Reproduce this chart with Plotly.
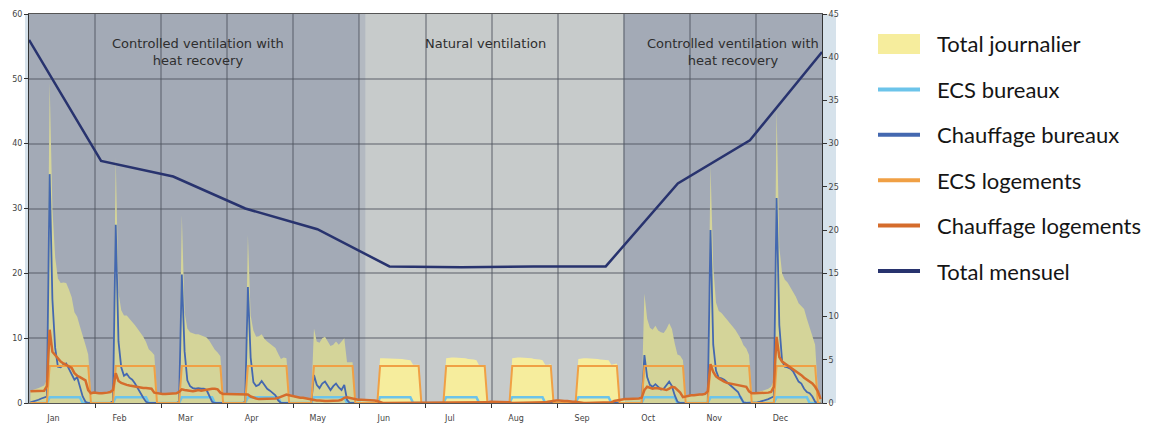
import plotly.graph_objects as go

months = ["Jan", "Feb", "Mar", "Apr", "May", "Jun", "Jul", "Aug", "Sep", "Oct", "Nov", "Dec"]
hours = list(range(24))

# typical day (hourly) for each month, kW
total_journalier = [
    [1.9, 2.0, 2.2, 2.3, 2.5, 2.7, 3.6, 49.5, 30.0, 22.5, 19.2, 18.5, 18.6, 18.5, 17.5, 16.3, 14.0, 13.3, 11.8, 10.2, 9.0, 7.5, 1.6, 1.6],
    [1.5, 1.5, 1.5, 1.5, 1.6, 1.7, 2.3, 37.8, 17.0, 14.3, 13.5, 13.5, 13.0, 12.6, 12.0, 11.4, 10.8, 10.2, 9.4, 8.3, 7.9, 7.4, 1.5, 1.5],
    [1.4, 1.4, 1.4, 1.4, 1.4, 1.5, 1.9, 29.0, 14.0, 11.5, 10.9, 10.7, 10.6, 10.6, 10.4, 10.3, 10.1, 9.6, 8.9, 8.2, 7.8, 7.2, 1.4, 1.4],
    [1.4, 1.4, 1.4, 1.4, 1.4, 1.4, 1.6, 25.9, 13.5, 11.2, 10.2, 10.3, 10.6, 9.9, 9.5, 9.2, 8.8, 8.5, 7.6, 6.8, 7.0, 6.9, 1.3, 1.2],
    [0.9, 0.9, 0.8, 0.8, 0.7, 0.7, 0.6, 11.5, 9.5, 9.3, 10.0, 10.2, 9.4, 8.8, 9.0, 9.5, 9.0, 9.5, 10.0, 6.3, 6.3, 6.3, 0.5, 0.5],
    [0.5, 0.5, 0.5, 0.4, 0.4, 0.4, 0.3, 6.9, 6.9, 6.9, 6.9, 6.9, 6.9, 6.9, 6.8, 6.8, 6.7, 6.7, 6.6, 5.9, 5.9, 5.9, 0.1, 0.1],
    [0.1, 0.1, 0.0, 0.0, 0.0, 0.0, 0.0, 6.9, 7.0, 7.0, 7.0, 7.0, 7.0, 6.9, 6.9, 6.8, 6.8, 6.7, 6.6, 5.8, 5.8, 5.8, 0.2, 0.2],
    [0.2, 0.2, 0.1, 0.1, 0.1, 0.1, 0.1, 6.9, 7.0, 7.0, 7.0, 7.0, 6.9, 6.9, 6.9, 6.8, 6.8, 6.7, 6.6, 5.9, 5.9, 6.0, 0.4, 0.4],
    [0.4, 0.3, 0.3, 0.3, 0.2, 0.2, 0.2, 6.8, 6.9, 6.9, 6.9, 6.9, 6.9, 6.8, 6.8, 6.7, 6.7, 6.6, 6.6, 5.9, 6.0, 6.1, 0.5, 0.6],
    [0.6, 0.6, 0.6, 0.7, 0.7, 0.7, 0.9, 16.9, 13.0, 11.6, 11.3, 11.9, 11.2, 10.9, 10.8, 11.4, 12.3, 11.4, 9.2, 7.5, 7.3, 6.6, 1.0, 1.2],
    [1.2, 1.2, 1.3, 1.3, 1.3, 1.4, 2.0, 36.7, 21.0, 15.5, 14.2, 13.9, 13.4, 12.9, 12.3, 11.8, 11.3, 10.6, 9.9, 8.9, 8.4, 7.4, 1.5, 1.5],
    [1.7, 1.8, 1.9, 2.0, 2.2, 2.5, 3.5, 45.5, 24.0, 20.0, 19.0, 18.6, 17.9, 17.2, 16.4, 15.4, 14.9, 14.5, 13.0, 11.7, 10.3, 9.0, 2.0, 0.8],
]

ecs_bureaux = [
    [0, 0, 0, 0, 0, 0, 0, 0.9, 0.9, 0.9, 0.9, 0.9, 0.9, 0.9, 0.9, 0.9, 0.9, 0.9, 0.9, 0, 0, 0, 0, 0],
    [0, 0, 0, 0, 0, 0, 0, 0.9, 0.9, 0.9, 0.9, 0.9, 0.9, 0.9, 0.9, 0.9, 0.9, 0.9, 0.9, 0, 0, 0, 0, 0],
    [0, 0, 0, 0, 0, 0, 0, 0.9, 0.9, 0.9, 0.9, 0.9, 0.9, 0.9, 0.9, 0.9, 0.9, 0.9, 0.9, 0, 0, 0, 0, 0],
    [0, 0, 0, 0, 0, 0, 0, 0.9, 0.9, 0.9, 0.9, 0.9, 0.9, 0.9, 0.9, 0.9, 0.9, 0.9, 0.9, 0, 0, 0, 0, 0],
    [0, 0, 0, 0, 0, 0, 0, 0.9, 0.9, 0.9, 0.9, 0.9, 0.9, 0.9, 0.9, 0.9, 0.9, 0.9, 0.9, 0, 0, 0, 0, 0],
    [0, 0, 0, 0, 0, 0, 0, 0.9, 0.9, 0.9, 0.9, 0.9, 0.9, 0.9, 0.9, 0.9, 0.9, 0.9, 0.9, 0, 0, 0, 0, 0],
    [0, 0, 0, 0, 0, 0, 0, 0.9, 0.9, 0.9, 0.9, 0.9, 0.9, 0.9, 0.9, 0.9, 0.9, 0.9, 0.9, 0, 0, 0, 0, 0],
    [0, 0, 0, 0, 0, 0, 0, 0.9, 0.9, 0.9, 0.9, 0.9, 0.9, 0.9, 0.9, 0.9, 0.9, 0.9, 0.9, 0, 0, 0, 0, 0],
    [0, 0, 0, 0, 0, 0, 0, 0.9, 0.9, 0.9, 0.9, 0.9, 0.9, 0.9, 0.9, 0.9, 0.9, 0.9, 0.9, 0, 0, 0, 0, 0],
    [0, 0, 0, 0, 0, 0, 0, 0.9, 0.9, 0.9, 0.9, 0.9, 0.9, 0.9, 0.9, 0.9, 0.9, 0.9, 0.9, 0, 0, 0, 0, 0],
    [0, 0, 0, 0, 0, 0, 0, 0.9, 0.9, 0.9, 0.9, 0.9, 0.9, 0.9, 0.9, 0.9, 0.9, 0.9, 0.9, 0, 0, 0, 0, 0],
    [0, 0, 0, 0, 0, 0, 0, 0.9, 0.9, 0.9, 0.9, 0.9, 0.9, 0.9, 0.9, 0.9, 0.9, 0.9, 0.9, 0, 0, 0, 0, 0],
]

chauffage_bureaux = [
    [0.1, 0.2, 0.4, 0.5, 0.7, 0.8, 1.0, 35.3, 16.0, 8.5, 5.6, 5.5, 5.9, 6.1, 5.3, 4.6, 3.6, 4.0, 2.5, 1.0, 0.2, 0, 0, 0],
    [0, 0, 0, 0, 0, 0, 0.3, 27.5, 9.5, 5.5, 4.2, 4.5, 3.9, 3.6, 3.0, 2.2, 1.5, 0.8, 0.2, 0, 0, 0, 0, 0],
    [0, 0, 0, 0, 0, 0, 0.2, 19.8, 8.0, 3.5, 2.6, 2.3, 2.2, 2.3, 2.2, 2.2, 2.0, 1.2, 0.2, 0, 0, 0, 0, 0],
    [0, 0, 0, 0, 0, 0, 0.2, 17.9, 7.0, 3.2, 2.6, 2.8, 3.4, 2.8, 2.2, 1.9, 1.6, 1.2, 0.4, 0, 0, 0, 0, 0],
    [0, 0, 0, 0, 0, 0, 0, 4.3, 2.8, 2.3, 3.0, 3.3, 2.6, 2.0, 2.6, 3.0, 2.4, 2.0, 2.8, 0.5, 0, 0, 0, 0],
    [0, 0, 0, 0, 0, 0, 0, 0, 0, 0, 0, 0, 0, 0, 0, 0, 0, 0, 0, 0, 0, 0, 0, 0],
    [0, 0, 0, 0, 0, 0, 0, 0, 0, 0, 0, 0, 0, 0, 0, 0, 0, 0, 0, 0, 0, 0, 0, 0],
    [0, 0, 0, 0, 0, 0, 0, 0, 0, 0, 0, 0, 0, 0, 0, 0, 0, 0, 0, 0, 0, 0, 0, 0],
    [0, 0, 0, 0, 0, 0, 0, 0, 0, 0, 0, 0, 0, 0, 0, 0, 0, 0, 0, 0, 0, 0, 0, 0],
    [0, 0, 0, 0, 0, 0, 0, 7.4, 4.0, 2.8, 2.5, 2.9, 2.5, 2.1, 2.2, 2.8, 3.3, 2.6, 1.2, 0.2, 0, 0, 0, 0],
    [0, 0, 0, 0, 0, 0, 0, 26.7, 9.0, 5.0, 3.9, 3.8, 3.6, 3.2, 2.8, 2.5, 2.1, 1.7, 0.8, 0.1, 0, 0, 0, 0],
    [0.1, 0.2, 0.3, 0.4, 0.6, 0.8, 1.0, 31.6, 12.0, 6.5, 5.6, 5.5, 5.3, 4.9, 4.0, 3.3, 3.0, 2.2, 1.7, 1.5, 1.0, 0.2, 0, 0],
]

ecs_logements = [
    [0, 0, 0, 0, 0, 0, 0, 5.7, 5.7, 5.7, 5.7, 5.7, 5.7, 5.7, 5.7, 5.7, 5.7, 5.7, 5.7, 5.7, 5.7, 5.7, 0, 0],
    [0, 0, 0, 0, 0, 0, 0, 5.7, 5.7, 5.7, 5.7, 5.7, 5.7, 5.7, 5.7, 5.7, 5.7, 5.7, 5.7, 5.7, 5.7, 5.7, 0, 0],
    [0, 0, 0, 0, 0, 0, 0, 5.7, 5.7, 5.7, 5.7, 5.7, 5.7, 5.7, 5.7, 5.7, 5.7, 5.7, 5.7, 5.7, 5.7, 5.7, 0, 0],
    [0, 0, 0, 0, 0, 0, 0, 5.7, 5.7, 5.7, 5.7, 5.7, 5.7, 5.7, 5.7, 5.7, 5.7, 5.7, 5.7, 5.7, 5.7, 5.7, 0, 0],
    [0, 0, 0, 0, 0, 0, 0, 5.7, 5.7, 5.7, 5.7, 5.7, 5.7, 5.7, 5.7, 5.7, 5.7, 5.7, 5.7, 5.7, 5.7, 5.7, 0, 0],
    [0, 0, 0, 0, 0, 0, 0, 5.7, 5.7, 5.7, 5.7, 5.7, 5.7, 5.7, 5.7, 5.7, 5.7, 5.7, 5.7, 5.7, 5.7, 5.7, 0, 0],
    [0, 0, 0, 0, 0, 0, 0, 5.7, 5.7, 5.7, 5.7, 5.7, 5.7, 5.7, 5.7, 5.7, 5.7, 5.7, 5.7, 5.7, 5.7, 5.7, 0, 0],
    [0, 0, 0, 0, 0, 0, 0, 5.7, 5.7, 5.7, 5.7, 5.7, 5.7, 5.7, 5.7, 5.7, 5.7, 5.7, 5.7, 5.7, 5.7, 5.7, 0, 0],
    [0, 0, 0, 0, 0, 0, 0, 5.7, 5.7, 5.7, 5.7, 5.7, 5.7, 5.7, 5.7, 5.7, 5.7, 5.7, 5.7, 5.7, 5.7, 5.7, 0, 0],
    [0, 0, 0, 0, 0, 0, 0, 5.7, 5.7, 5.7, 5.7, 5.7, 5.7, 5.7, 5.7, 5.7, 5.7, 5.7, 5.7, 5.7, 5.7, 5.7, 0, 0],
    [0, 0, 0, 0, 0, 0, 0, 5.7, 5.7, 5.7, 5.7, 5.7, 5.7, 5.7, 5.7, 5.7, 5.7, 5.7, 5.7, 5.7, 5.7, 5.7, 0, 0],
    [0, 0, 0, 0, 0, 0, 0, 5.7, 5.7, 5.7, 5.7, 5.7, 5.7, 5.7, 5.7, 5.7, 5.7, 5.7, 5.7, 5.7, 5.7, 5.7, 0, 0],
]

chauffage_logements = [
    [1.8, 1.8, 1.8, 1.8, 1.8, 1.9, 2.6, 11.3, 7.9, 7.4, 6.9, 6.4, 6.1, 5.9, 5.7, 5.4, 4.6, 4.2, 4.0, 3.8, 3.5, 2.0, 1.5, 1.6],
    [1.5, 1.5, 1.5, 1.5, 1.6, 1.7, 2.0, 4.6, 3.4, 3.1, 2.9, 2.8, 2.7, 2.6, 2.5, 2.5, 2.4, 2.3, 2.3, 2.3, 2.2, 1.6, 1.5, 1.5],
    [1.4, 1.4, 1.4, 1.4, 1.4, 1.5, 1.7, 2.1, 2.0, 1.9, 1.9, 1.8, 1.9, 2.0, 1.9, 2.0, 2.1, 2.1, 2.2, 2.2, 2.1, 1.6, 1.4, 1.4],
    [1.4, 1.4, 1.4, 1.4, 1.4, 1.4, 1.4, 1.3, 1.0, 0.8, 0.7, 0.6, 0.6, 0.6, 0.6, 0.6, 0.6, 0.7, 0.8, 1.0, 1.2, 1.3, 1.2, 1.1],
    [0.9, 0.9, 0.8, 0.8, 0.7, 0.7, 0.6, 0.5, 0.4, 0.4, 0.3, 0.3, 0.3, 0.3, 0.3, 0.3, 0.4, 0.5, 0.8, 0.9, 0.8, 0.6, 0.5, 0.5],
    [0.5, 0.5, 0.5, 0.4, 0.4, 0.4, 0.3, 0.1, 0, 0, 0, 0, 0, 0, 0, 0, 0, 0, 0, 0, 0, 0, 0, 0],
    [0, 0, 0, 0, 0, 0, 0, 0, 0, 0, 0, 0, 0, 0, 0, 0, 0, 0, 0, 0, 0, 0.1, 0.1, 0.2],
    [0.2, 0.2, 0.1, 0.1, 0.1, 0.1, 0.1, 0, 0, 0, 0, 0, 0, 0, 0, 0, 0, 0, 0, 0.1, 0.2, 0.3, 0.4, 0.4],
    [0.4, 0.3, 0.3, 0.3, 0.2, 0.2, 0.2, 0.1, 0, 0, 0, 0, 0, 0, 0, 0, 0, 0, 0, 0.1, 0.3, 0.4, 0.5, 0.6],
    [0.6, 0.6, 0.6, 0.7, 0.7, 0.7, 0.8, 2.0, 2.5, 2.3, 2.2, 2.3, 2.3, 2.2, 2.1, 2.0, 2.2, 2.5, 2.4, 2.0, 1.6, 0.9, 1.0, 1.2],
    [1.2, 1.2, 1.3, 1.3, 1.3, 1.4, 1.8, 6.0, 4.8, 4.1, 3.8, 3.5, 3.3, 3.1, 3.0, 2.9, 2.8, 2.7, 2.6, 2.5, 2.5, 1.8, 1.5, 1.5],
    [1.5, 1.5, 1.5, 1.6, 1.6, 1.7, 2.5, 10.2, 7.1, 6.4, 6.1, 5.9, 5.5, 5.2, 4.9, 4.6, 4.3, 3.9, 3.6, 3.3, 3.0, 2.5, 1.8, 0.6],
]

# monthly total, right axis
total_mensuel = [42.0, 28.0, 26.2, 22.5, 20.1, 15.8, 15.7, 15.8, 15.8, 25.4, 30.4, 40.6]

# ventilation periods (month index start, end)
periods = [(0, 5, "Controlled ventilation with<br>heat recovery"),
           (5, 9, "Natural ventilation"),
           (9, 12, "Controlled ventilation with<br>heat recovery")]

legend_names = ["Total journalier", "ECS bureaux", "Chauffage bureaux",
                "ECS logements", "Chauffage logements", "Total mensuel"]
colors = {"Total journalier": "#f6ed9d", "ECS bureaux": "#6cc4ea",
          "Chauffage bureaux": "#4468b0", "ECS logements": "#f0a045",
          "Chauffage logements": "#d56c2c", "Total mensuel": "#28336e"}
olive = "#d4d499"


def flat(rows):
    return [v for row in rows for v in row]


x_h = [m + (h + 0.5) / 24 for m in range(12) for h in hours]
x_m = [i * 12 / 11 for i in range(12)]

fig = go.Figure()

# daily total as filled area, tinted by ventilation period
tot = flat(total_journalier)
for (m0, m1, label) in periods:
    i0, i1 = m0 * 24, min(m1 * 24 + 1, len(tot))
    natural = label.startswith("Natural")
    fig.add_trace(go.Scatter(x=x_h[i0:i1], y=tot[i0:i1], mode="lines", fill="tozeroy",
                             line=dict(width=0), fillcolor=colors["Total journalier"] if natural else olive,
                             showlegend=False, hoverinfo="skip"))

line_series = [("ECS bureaux", ecs_bureaux, 2.5),
               ("Chauffage bureaux", chauffage_bureaux, 1.8),
               ("ECS logements", ecs_logements, 2),
               ("Chauffage logements", chauffage_logements, 2.5)]
for name, rows, w in line_series:
    fig.add_trace(go.Scatter(x=x_h, y=flat(rows), mode="lines", name=name,
                             line=dict(color=colors[name], width=w), showlegend=False))

fig.add_trace(go.Scatter(x=x_m, y=total_mensuel, mode="lines", name="Total mensuel", yaxis="y2",
                         line=dict(color=colors["Total mensuel"], width=2.5), showlegend=False))

# plot area in page pixels; the page body adds an 8px offset
OFF = 8
W, H = 1155 - OFF, 425 - OFF
L, R, T, B = 29, 822, 14, 403


def px(xp):
    return (xp - L) / (R - L)


def py(yp):
    return 1 - (yp - T) / (B - T)


shapes = []
# background bands for ventilation periods
for (m0, m1, label) in periods:
    shapes.append(dict(type="rect", xref="x", yref="paper", x0=m0, x1=m1, y0=0, y1=1,
                       fillcolor="#c7cbcb" if label.startswith("Natural") else "#a3aab6",
                       line=dict(width=0), layer="below"))
shapes.append(dict(type="rect", xref="x", yref="paper", x0=5, x1=5.09, y0=0, y1=1,
                   fillcolor="#b3b9c1", line=dict(width=0), layer="below"))
# light blue side strips
shapes.append(dict(type="rect", xref="paper", yref="paper", x0=px(25), x1=0, y0=0, y1=1,
                   fillcolor="#d6e2eb", line=dict(width=0), layer="below"))
shapes.append(dict(type="rect", xref="paper", yref="paper", x0=1, x1=px(836), y0=0, y1=1,
                   fillcolor="#d6e2eb", line=dict(width=0), layer="below"))

annotations = []
label_x = [2.56, 6.91, 10.65]
for (m0, m1, label), lx in zip(periods, label_x):
    two = "<br>" in label
    annotations.append(dict(x=lx, y=py(52 if two else 44), xref="x", yref="paper",
                            xanchor="center", yanchor="middle",
                            text=label, showarrow=False, align="center",
                            font=dict(family="DejaVu Sans", size=13, color="#2e2e2e")))

# legend drawn at the right
for i, name in enumerate(legend_names):
    yc = 44 + i * 45.4
    if name == "Total journalier":
        shapes.append(dict(type="rect", xref="paper", yref="paper", x0=px(878), x1=px(920),
                           y0=py(yc + 10), y1=py(yc - 10), fillcolor=colors[name], line=dict(width=0)))
    else:
        shapes.append(dict(type="line", xref="paper", yref="paper", x0=px(878), x1=px(920),
                           y0=py(yc), y1=py(yc), line=dict(color=colors[name], width=4)))
    annotations.append(dict(x=px(935), y=py(yc), xref="paper", yref="paper", text=name,
                            showarrow=False, xanchor="left", yanchor="middle",
                            font=dict(family="Lato", size=22, color="#151515")))

grid = "rgba(80,85,95,0.45)"
tickfont = dict(family="DejaVu Sans", size=8, color="#444")

fig.update_layout(
    width=W, height=H,
    margin=dict(l=L - OFF, r=W - (R - OFF), t=T - OFF, b=H - (B - OFF)),
    paper_bgcolor="white", plot_bgcolor="#a3aab6",
    showlegend=False,
    shapes=shapes, annotations=annotations,
    xaxis=dict(range=[0, 12], tickmode="array", tickvals=[k + 0.37 for k in range(12)], ticktext=months,
               ticks="", showgrid=False, zeroline=False, tickfont=tickfont, ticklabelstandoff=7,
               showline=True, linecolor="#555", linewidth=1, mirror=True, automargin=False,
               minor=dict(tickmode="array", tickvals=list(range(1, 12)), ticks="outside", ticklen=4,
                          tickcolor="#333", showgrid=True, gridcolor=grid, gridwidth=1.5)),
    yaxis=dict(range=[0, 60], dtick=10, ticks="outside", ticklen=4, tickcolor="#333",
               showgrid=True, gridcolor=grid, gridwidth=1.5, zeroline=False, tickfont=tickfont,
               showline=True, linecolor="#333", linewidth=1, automargin=False),
    yaxis2=dict(range=[0, 45], dtick=5, overlaying="y", side="right", ticks="outside", ticklen=4,
                tickcolor="#333", showgrid=False, zeroline=False, tickfont=tickfont,
                showline=True, linecolor="#333", linewidth=1, automargin=False),
)

fig.write_html("out.html")
